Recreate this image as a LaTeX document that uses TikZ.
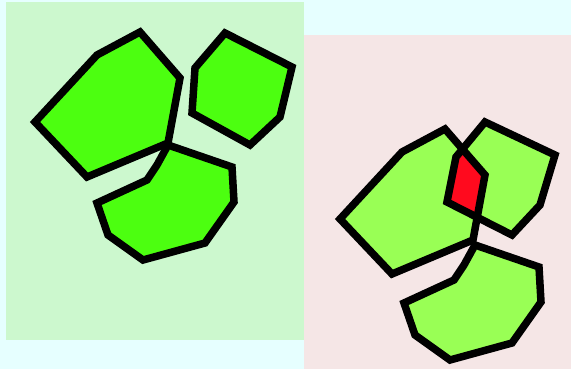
\documentclass[tikz,border=0pt]{standalone}
\definecolor{bgcyan}{RGB}{230,255,255}
\definecolor{panelgreen}{RGB}{204,248,206}
\definecolor{panelpink}{RGB}{245,230,230}
\definecolor{brightgreen}{RGB}{76,255,16}
\definecolor{softgreen}{RGB}{153,255,85}
\definecolor{hotred}{RGB}{255,10,30}
\tikzset{
  blob/.style={draw=black,line width=7.5pt,line join=miter},
}
\begin{document}
\begin{tikzpicture}[x=1pt,y=-1pt]
\useasboundingbox (0,0) rectangle (571,369);
\fill[bgcyan] (0,0) rectangle (571,369);
\fill[panelgreen] (6,2) rectangle (304,340);
\fill[panelpink] (304,35) rectangle (571,369);
% shapes
\def\shapeA{(140,32) -- (180,78) -- (168,143) -- (87,177) -- (35,122) -- (97,55) -- cycle}
\def\shapeB{(225,33) -- (292,67) -- (280,117) -- (250,145) -- (192,113) -- (195,68) -- cycle}
\def\shapeC{(168,145) -- (232,167) -- (234,202) -- (205,243) -- (143,260) -- (108,235) -- (97,203) -- (147,180) -- (157,165) -- cycle}
\def\shapeE{(485,122) -- (555,155) -- (540,205) -- (512,235) -- (447,202) -- (456,157) -- cycle}
% left panel
\filldraw[blob,fill=brightgreen] \shapeA;
\filldraw[blob,fill=brightgreen] \shapeB;
\filldraw[blob,fill=brightgreen] \shapeC;
% right panel
\fill[softgreen,shift={(305,97)}] \shapeA;
\fill[softgreen] \shapeE;
\begin{scope}
  \clip[shift={(305,97)}] \shapeA;
  \fill[hotred] \shapeE;
\end{scope}
\draw[blob,shift={(305,97)}] \shapeA;
\draw[blob] \shapeE;
\filldraw[blob,fill=softgreen,shift={(307,100)}] \shapeC;
\end{tikzpicture}
\end{document}
